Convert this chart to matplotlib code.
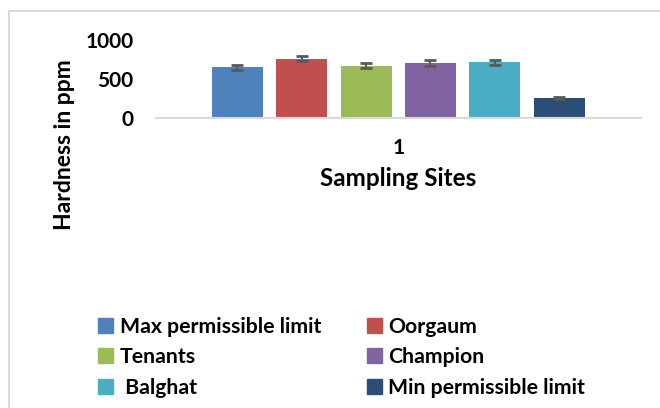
import matplotlib.pyplot as plt
from matplotlib.patches import Rectangle, Patch

plt.rcParams['font.family'] = ['Lato', 'DejaVu Sans']
plt.rcParams['font.weight'] = 'bold'

sites = ['Max permissible limit', 'Oorgaum', 'Tenants', 'Champion', ' Balghat', 'Min permissible limit']
hardness = [650, 760, 670, 700, 710, 250]
errors = [32, 36, 36, 36, 36, 12]
colors = ['#4F81BD', '#C0504D', '#9BBB59', '#8064A2', '#4BACC6', '#2C4D75']

fig = plt.figure(figsize=(6.6, 4.08), dpi=100)
ax = fig.add_axes([0.236, 0.712, 0.735, 0.19])

step = 0.1327
width = 0.105
for i in range(len(sites)):
    x = (i - 2.5) * step
    ax.bar(x, hardness[i], width, color=colors[i], label=sites[i],
           yerr=errors[i], ecolor='#595959', capsize=4.3,
           error_kw={'elinewidth': 1.5, 'capthick': 2})

ax.set_xlim(-0.5, 0.5)
ax.set_ylim(0, 1000)
ax.set_yticks([0, 500, 1000])
ax.set_xticks([0])
ax.set_xticklabels(['1'])
ax.tick_params(axis='both', length=0, labelsize=15)
ax.tick_params(axis='y', pad=16)
ax.tick_params(axis='x', pad=15)
for s in ['top', 'right', 'left']:
    ax.spines[s].set_visible(False)
ax.spines['bottom'].set_color('#d9d9d9')
ax.spines['bottom'].set_linewidth(1.5)

ax.set_xlabel('Sampling Sites', fontsize=17.5, fontweight='bold', labelpad=6)
fig.text(0.097, 0.645, 'Hardness in ppm', rotation=90, fontsize=16.5,
         fontweight='bold', ha='center', va='center')

# legend ordered column-wise so it reads row by row like the original
order = [0, 2, 4, 1, 3, 5]
handles = [Patch(color=colors[i]) for i in order]
labels = [sites[i] for i in order]
fig.legend(handles, labels, ncol=2, loc='upper left',
           bbox_to_anchor=(0.136, 0.245), frameon=False, fontsize=15.3,
           handlelength=0.7, handleheight=0.7, handletextpad=0.3,
           columnspacing=2.16, labelspacing=0.5, borderaxespad=0)

# outer chart border
fig.add_artist(Rectangle((8.5 / 660, -0.1), 1.2, 1.1 - 11.5 / 408,
                         transform=fig.transFigure, fill=False,
                         edgecolor='#d9d9d9', linewidth=1.5))

plt.savefig('out.png', dpi=100)
